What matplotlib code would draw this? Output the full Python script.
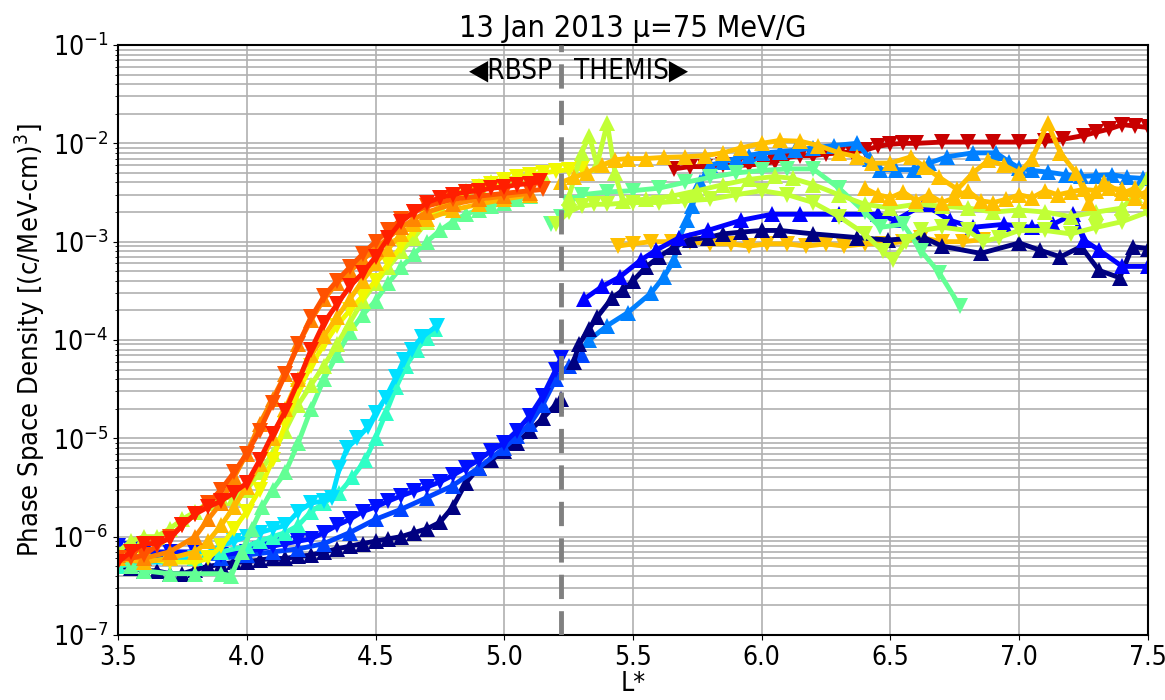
import numpy as np
import matplotlib.pyplot as plt

plt.rcParams['font.family'] = ['DejaVu Sans']
plt.rcParams['font.stretch'] = 'condensed'

# ---- RBSP passes (L*, PSD) ----
L_rb_navy = [3.5, 3.55, 3.6, 3.65, 3.7, 3.75, 3.8, 3.85, 3.9, 3.95, 4.0, 4.05, 4.1, 4.15, 4.2, 4.25, 4.3, 4.35,
             4.4, 4.45, 4.5, 4.55, 4.6, 4.65, 4.7, 4.75, 4.8, 4.85, 4.9, 4.95, 5.0, 5.05, 5.1, 5.15, 5.2, 5.22]
psd_rb_navy = [5e-7, 4.8e-7, 4.5e-7, 4.5e-7, 4.2e-7, 4.2e-7, 4.6e-7, 5e-7, 5.2e-7, 5.5e-7, 5.5e-7, 5.8e-7, 6e-7,
               6e-7, 6.3e-7, 6.5e-7, 7e-7, 7.5e-7, 8e-7, 8.5e-7, 9e-7, 9.5e-7, 1e-6, 1.1e-6, 1.2e-6, 1.4e-6, 2e-6,
               3.5e-6, 5e-6, 6e-6, 7.5e-6, 9e-6, 1.2e-5, 1.6e-5, 2.2e-5, 2.5e-5]

L_rb_blue = [3.5, 3.55, 3.6, 3.7, 3.8, 3.9, 4.0, 4.05, 4.1, 4.15, 4.2, 4.25, 4.3, 4.35, 4.4, 4.45, 4.5, 4.55, 4.6,
             4.65, 4.7, 4.75, 4.8, 4.85, 4.9, 4.95, 5.0, 5.05, 5.1, 5.15, 5.2, 5.22]
psd_rb_blue = [8e-7, 7.5e-7, 7e-7, 7e-7, 7e-7, 6.5e-7, 7e-7, 7.5e-7, 8e-7, 8.5e-7, 9e-7, 9.5e-7, 1.1e-6, 1.3e-6,
               1.5e-6, 1.8e-6, 2e-6, 2.3e-6, 2.6e-6, 2.9e-6, 3.2e-6, 3.6e-6, 4.2e-6, 5e-6, 6e-6, 7.5e-6, 9e-6,
               1.2e-5, 1.7e-5, 2.7e-5, 5e-5, 6.5e-5]

L_rb_mblue = [3.5, 3.6, 3.7, 3.8, 3.9, 4.0, 4.1, 4.2, 4.3, 4.4, 4.5, 4.6, 4.7, 4.8, 4.9, 5.0, 5.05, 5.1, 5.15, 5.2,
              5.25, 5.3]
psd_rb_mblue = [6e-7, 6e-7, 6e-7, 6e-7, 6e-7, 6.5e-7, 7e-7, 7.5e-7, 8.5e-7, 1.1e-6, 1.5e-6, 1.9e-6, 2.5e-6, 3.3e-6,
                5e-6, 8e-6, 1.05e-5, 1.4e-5, 2.2e-5, 4e-5, 5.5e-5, 7e-5]

L_rb_cyan = [3.5, 3.6, 3.7, 3.8, 3.9, 3.95, 4.0, 4.05, 4.1, 4.15, 4.2, 4.25, 4.3, 4.33, 4.36, 4.39, 4.43, 4.47, 4.5,
             4.54, 4.58, 4.61, 4.64, 4.68, 4.74]
psd_rb_cyan = [6e-7, 5.5e-7, 5.5e-7, 6e-7, 8e-7, 9e-7, 1e-6, 1.1e-6, 1.2e-6, 1.3e-6, 1.8e-6, 2.2e-6, 2.3e-6, 2.5e-6,
               5e-6, 8e-6, 1e-5, 1.3e-5, 1.8e-5, 2.6e-5, 4.2e-5, 6.3e-5, 8e-5, 1.07e-4, 1.4e-4]

L_rb_aqua = [3.5, 3.6, 3.7, 3.8, 3.9, 4.0, 4.05, 4.1, 4.15, 4.2, 4.25, 4.3, 4.36, 4.41, 4.46, 4.5, 4.54, 4.58, 4.62,
             4.66, 4.7, 4.73]
psd_rb_aqua = [5e-7, 5.5e-7, 6e-7, 6e-7, 7e-7, 8e-7, 9e-7, 1e-6, 1.1e-6, 1.3e-6, 1.8e-6, 2.2e-6, 2.8e-6, 4e-6, 6e-6,
               1e-5, 1.8e-5, 3.3e-5, 5.5e-5, 8e-5, 1.05e-4, 1.3e-4]

L_rb_lgreen = [3.5, 3.55, 3.6, 3.7, 3.8, 3.9, 3.94, 3.98, 4.02, 4.06, 4.1, 4.15, 4.2, 4.25, 4.3, 4.35, 4.4, 4.45,
               4.5, 4.55, 4.6, 4.65, 4.7, 4.75, 4.8, 4.85, 4.9, 4.95, 5.0, 5.05, 5.1]
psd_rb_lgreen = [6e-7, 5e-7, 4.5e-7, 4.2e-7, 4.2e-7, 4.2e-7, 4e-7, 7e-7, 1.2e-6, 2e-6, 3e-6, 4.5e-6, 9e-6, 2e-5,
                 4e-5, 7e-5, 1.2e-4, 1.8e-4, 2.5e-4, 3.8e-4, 5.5e-4, 7.5e-4, 1e-3, 1.3e-3, 1.6e-3, 1.9e-3, 2.1e-3,
                 2.3e-3, 2.5e-3, 2.7e-3, 2.9e-3]

L_rb_ygreen = [3.5, 3.55, 3.6, 3.65, 3.7, 3.75, 3.8, 3.85, 3.9, 3.95, 4.0, 4.05, 4.1, 4.15, 4.2, 4.25, 4.3, 4.35,
               4.4, 4.45, 4.5, 4.55, 4.6, 4.65, 4.7, 4.75, 4.8, 4.85, 4.9, 4.95, 5.0, 5.05, 5.1, 5.15]
psd_rb_ygreen = [7e-7, 9e-7, 1e-6, 1e-6, 1.2e-6, 1.5e-6, 1.8e-6, 2.2e-6, 2.5e-6, 2.5e-6, 3e-6, 4.5e-6, 7e-6,
                 1.2e-5, 2.2e-5, 3.5e-5, 5.5e-5, 9e-5, 1.5e-4, 2.5e-4, 3.8e-4, 5.5e-4, 8e-4, 1.1e-3, 1.6e-3, 2.2e-3,
                 2.8e-3, 3.3e-3, 3.7e-3, 4e-3, 4.3e-3, 4.5e-3, 4.7e-3, 4.8e-3]

L_rb_yellow = [3.5, 3.6, 3.7, 3.8, 3.85, 3.9, 3.95, 4.0, 4.05, 4.1, 4.15, 4.2, 4.25, 4.3, 4.35, 4.4, 4.45, 4.5, 4.55,
               4.6, 4.65, 4.7, 4.75, 4.8, 4.85, 4.9, 4.95, 5.0, 5.05, 5.1, 5.15, 5.2, 5.25, 5.3]
psd_rb_yellow = [6e-7, 6e-7, 5.5e-7, 5.5e-7, 6e-7, 8e-7, 1.2e-6, 1.8e-6, 3e-6, 6e-6, 1.4e-5, 3e-5, 5.5e-5, 9e-5,
                 1.4e-4, 2e-4, 2.8e-4, 4e-4, 6e-4, 9e-4, 1.3e-3, 1.8e-3, 2.3e-3, 2.8e-3, 3.2e-3, 3.6e-3, 3.9e-3,
                 4.2e-3, 4.5e-3, 4.8e-3, 5e-3, 5.2e-3, 5.4e-3, 5.6e-3]

L_rb_amber = [3.5, 3.6, 3.7, 3.8, 3.85, 3.9, 3.95, 4.0, 4.05, 4.1, 4.15, 4.2, 4.25, 4.3, 4.35, 4.4, 4.45, 4.5, 4.55,
              4.6, 4.65, 4.7, 4.8, 4.9, 5.0, 5.1]
psd_rb_amber = [6e-7, 5.5e-7, 6e-7, 7e-7, 9e-7, 1.3e-6, 2e-6, 3.2e-6, 5.5e-6, 1e-5, 2e-5, 4e-5, 7e-5, 1.1e-4,
                1.7e-4, 2.6e-4, 4e-4, 6e-4, 8.5e-4, 1.2e-3, 1.5e-3, 1.7e-3, 2.1e-3, 2.4e-3, 2.7e-3, 3e-3]

L_rb_orange = [3.5, 3.6, 3.7, 3.8, 3.85, 3.9, 3.95, 4.0, 4.05, 4.1, 4.15, 4.2, 4.25, 4.3, 4.35, 4.4, 4.45, 4.5,
               4.55, 4.6, 4.65, 4.7, 4.8, 4.9, 5.0, 5.1]
psd_rb_orange = [6.5e-7, 6e-7, 7e-7, 1e-6, 1.5e-6, 2.2e-6, 4e-6, 7e-6, 1.4e-5, 2.5e-5, 4.5e-5, 9e-5, 1.6e-4, 2.6e-4,
                 3.8e-4, 5e-4, 6.5e-4, 8.5e-4, 1.1e-3, 1.4e-3, 1.7e-3, 2e-3, 2.4e-3, 2.7e-3, 2.9e-3, 3.1e-3]

L_rb_ored = [3.5, 3.55, 3.6, 3.65, 3.7, 3.75, 3.8, 3.85, 3.9, 3.95, 4.0, 4.05, 4.1, 4.15, 4.2, 4.25, 4.3, 4.35, 4.4,
             4.45, 4.5, 4.55, 4.6, 4.65, 4.7, 4.8, 4.9, 5.0, 5.1, 5.15]
psd_rb_ored = [6e-7, 6e-7, 6.5e-7, 8e-7, 1e-6, 1.3e-6, 1.7e-6, 2.2e-6, 3e-6, 4.5e-6, 7e-6, 1.2e-5, 2.3e-5, 4.5e-5,
               9e-5, 1.7e-4, 2.8e-4, 4e-4, 5.5e-4, 7.5e-4, 1e-3, 1.3e-3, 1.7e-3, 2e-3, 2.3e-3, 2.7e-3, 2.9e-3,
               3.1e-3, 3.3e-3, 3.4e-3]

L_rb_red = [3.5, 3.55, 3.6, 3.65, 3.7, 3.75, 3.8, 3.85, 3.9, 3.95, 4.0, 4.05, 4.1, 4.15, 4.2, 4.25, 4.3, 4.35, 4.4,
            4.45, 4.5, 4.55, 4.6, 4.65, 4.7, 4.75, 4.8, 4.85, 4.9, 4.95, 5.0, 5.05, 5.1, 5.14]
psd_rb_red = [5.5e-7, 7e-7, 8.5e-7, 8.5e-7, 9.5e-7, 1.3e-6, 1.7e-6, 2e-6, 2.3e-6, 2.8e-6, 3.5e-6, 6e-6, 1.1e-5,
              1.9e-5, 3.8e-5, 8e-5, 1.5e-4, 2.3e-4, 3.5e-4, 4.8e-4, 7e-4, 1.1e-3, 1.6e-3, 2e-3, 2.5e-3, 2.8e-3,
              3e-3, 3.2e-3, 3.3e-3, 3.5e-3, 3.6e-3, 3.8e-3, 3.9e-3, 4.1e-3]

# ---- THEMIS passes (L*, PSD) ----
L_th_navy = [5.27, 5.29, 5.33, 5.36, 5.42, 5.46, 5.5, 5.55, 5.6, 5.66, 5.72, 5.79, 5.85, 5.92, 6.0, 6.07, 6.2, 6.37,
             6.49, 6.63, 6.7, 6.85, 7.0, 7.08, 7.16, 7.24, 7.31, 7.39, 7.44, 7.5]
psd_th_navy = [6e-5, 9e-5, 1.3e-4, 1.7e-4, 2.7e-4, 3.2e-4, 4e-4, 5.5e-4, 7e-4, 8.8e-4, 1.05e-3, 1.1e-3, 1.2e-3,
               1.25e-3, 1.3e-3, 1.3e-3, 1.2e-3, 1.1e-3, 1.04e-3, 1.1e-3, 9e-4, 7.6e-4, 9.7e-4, 8.2e-4, 7e-4, 8.9e-4,
               5.1e-4, 4.3e-4, 8.9e-4, 8.5e-4]

L_th_blue = [5.31, 5.38, 5.45, 5.53, 5.59, 5.68, 5.79, 5.92, 6.04, 6.15, 6.3, 6.45, 6.52, 6.63, 6.73, 6.82, 6.94,
             7.05, 7.13, 7.21, 7.25, 7.31, 7.4, 7.5]
psd_th_blue = [2.6e-4, 3.5e-4, 4.4e-4, 6.5e-4, 8.2e-4, 1.1e-3, 1.3e-3, 1.65e-3, 1.9e-3, 1.9e-3, 1.9e-3, 1.9e-3,
               1.65e-3, 2.4e-3, 1.65e-3, 1.4e-3, 1.5e-3, 1.4e-3, 1.5e-3, 1.9e-3, 1.04e-3, 8.2e-4, 5.6e-4, 5.6e-4]

L_th_azure = [5.33, 5.4, 5.48, 5.57, 5.62, 5.66, 5.68, 5.71, 5.73, 5.76, 5.8, 5.85, 5.9, 5.95, 6.0, 6.07, 6.13, 6.2,
              6.28, 6.37, 6.42, 6.46, 6.52, 6.59, 6.65, 6.72, 6.82, 6.91, 6.96, 7.0, 7.05, 7.11, 7.18, 7.24, 7.3,
              7.36, 7.42, 7.48]
psd_th_azure = [1e-4, 1.4e-4, 1.9e-4, 3e-4, 4.4e-4, 6.5e-4, 1.1e-3, 1.65e-3, 2.3e-3, 4e-3, 6e-3, 6.5e-3, 7e-3,
                7.5e-3, 8e-3, 8.2e-3, 8.5e-3, 9e-3, 9.5e-3, 1e-2, 7e-3, 5.4e-3, 5.4e-3, 5.4e-3, 6.3e-3, 7.3e-3,
                8e-3, 8e-3, 6.5e-3, 5.6e-3, 5.3e-3, 5.1e-3, 4.8e-3, 4.6e-3, 4.7e-3, 4.8e-3, 4.5e-3, 4.4e-3]

L_th_lgreen = [5.18, 5.22, 5.25, 5.3, 5.4, 5.5, 5.6, 5.7, 5.8, 5.9, 6.0, 6.1, 6.2, 6.3, 6.4, 6.46, 6.55, 6.62, 6.69,
               6.77]
psd_th_lgreen = [1.5e-3, 1.8e-3, 2.5e-3, 3e-3, 3.2e-3, 3.3e-3, 3.5e-3, 4e-3, 4.5e-3, 5e-3, 5.3e-3, 5.5e-3, 5.5e-3,
                 3.5e-3, 2e-3, 1.4e-3, 1.5e-3, 8e-4, 4.8e-4, 2.2e-4]

L_th_ygreen_dn = [5.2, 5.25, 5.3, 5.35, 5.4, 5.5, 5.6, 5.7, 5.8, 5.9, 6.0, 6.1, 6.2, 6.3, 6.4, 6.47, 6.51, 6.56,
                  6.62, 6.7, 6.8, 6.86, 6.92, 7.0, 7.1, 7.2, 7.3, 7.4, 7.5]
psd_th_ygreen_dn = [1.5e-3, 2e-3, 2.3e-3, 2.4e-3, 2.4e-3, 2.5e-3, 2.5e-3, 2.6e-3, 2.7e-3, 3e-3, 3.3e-3, 3e-3, 2.5e-3,
                    1.8e-3, 1.2e-3, 8e-4, 6.5e-4, 1e-3, 1.3e-3, 1.4e-3, 1.3e-3, 1e-3, 1.1e-3, 1.3e-3, 1.3e-3, 1.2e-3,
                    1.4e-3, 1.6e-3, 2e-3]

L_th_ygreen_up = [5.25, 5.3, 5.33, 5.36, 5.4, 5.43, 5.46, 5.55, 5.65, 5.75, 5.85, 5.95, 6.05, 6.12, 6.2, 6.3, 6.4,
                  6.5, 6.6, 6.7, 6.8, 6.9, 7.0, 7.1, 7.2, 7.3, 7.4, 7.45, 7.5]
psd_th_ygreen_up = [2.8e-3, 8e-3, 1.2e-2, 6e-3, 1.6e-2, 5e-3, 2.6e-3, 2.7e-3, 2.9e-3, 3.3e-3, 3.8e-3, 4.3e-3,
                    4.6e-3, 4.4e-3, 3.8e-3, 3e-3, 2.4e-3, 2.2e-3, 2.4e-3, 2.3e-3, 2.2e-3, 2e-3, 2.1e-3, 2e-3, 1.8e-3,
                    2e-3, 2.2e-3, 3e-3, 4.5e-3]

L_th_amber_dn = [5.44, 5.5, 5.57, 5.65, 5.72, 5.8, 5.88, 5.95, 6.02, 6.1, 6.17, 6.25, 6.32, 6.4, 6.47, 6.55, 6.62,
                 6.7, 6.78, 6.86]
psd_th_amber_dn = [9e-4, 9.5e-4, 1e-3, 1e-3, 1e-3, 9.5e-4, 9.5e-4, 9e-4, 9.5e-4, 9.5e-4, 9e-4, 9.5e-4, 9e-4,
                   9.5e-4, 9.5e-4, 1e-3, 1.1e-3, 1e-3, 1e-3, 1.05e-3]

L_th_amber_up = [5.22, 5.27, 5.32, 5.38, 5.43, 5.48, 5.55, 5.62, 5.7, 5.78, 5.85, 5.92, 6.0, 6.07, 6.15, 6.22, 6.3,
                 6.37, 6.43, 6.5, 6.58, 6.63, 6.69, 6.76, 6.82, 6.88, 6.94, 7.0, 7.05, 7.11, 7.16, 7.22, 7.27, 7.33,
                 7.4, 7.45, 7.5]
psd_th_amber_up = [4e-3, 4.5e-3, 5e-3, 6e-3, 6.8e-3, 7e-3, 7e-3, 7.2e-3, 7.3e-3, 7.5e-3, 8e-3, 9e-3, 1e-2, 1.07e-2,
                   1.05e-2, 9.5e-3, 8e-3, 7.3e-3, 6.3e-3, 6.3e-3, 7.3e-3, 5.8e-3, 4.5e-3, 3.4e-3, 5e-3, 6.7e-3,
                   6e-3, 5e-3, 7e-3, 1.6e-2, 8e-3, 5e-3, 2.5e-3, 4e-3, 3.1e-3, 3.5e-3, 2.6e-3]

L_th_amber_lo = [6.4, 6.45, 6.5, 6.55, 6.6, 6.65, 6.7, 6.75, 6.8, 6.85, 6.9, 6.95, 7.0, 7.05, 7.1, 7.15, 7.2, 7.25,
                 7.3, 7.35, 7.4, 7.45, 7.5]
psd_th_amber_lo = [3.5e-3, 3e-3, 2.8e-3, 3.2e-3, 2.6e-3, 3e-3, 2.5e-3, 2.8e-3, 3.3e-3, 2.6e-3, 2.5e-3, 2.7e-3, 3e-3,
                   2.8e-3, 3.3e-3, 3e-3, 3.2e-3, 3.4e-3, 3.3e-3, 3.5e-3, 3.4e-3, 2.8e-3, 3.3e-3]

L_th_dred = [5.66, 5.72, 5.78, 5.85, 5.9, 5.95, 6.0, 6.05, 6.1, 6.15, 6.2, 6.25, 6.3, 6.35, 6.4, 6.45, 6.5, 6.55,
             6.6, 6.7, 6.8, 6.9, 7.0, 7.1, 7.17, 7.25, 7.3, 7.35, 7.4, 7.45, 7.5]
psd_th_dred = [5.5e-3, 5.8e-3, 5.8e-3, 6e-3, 6e-3, 6e-3, 6.2e-3, 6.5e-3, 7.2e-3, 7.5e-3, 7.5e-3, 7.8e-3, 8e-3,
               8.2e-3, 8.5e-3, 9.3e-3, 9.8e-3, 1e-2, 1e-2, 1.03e-2, 1.03e-2, 1.03e-2, 1.03e-2, 1.05e-2, 1.1e-2,
               1.2e-2, 1.3e-2, 1.4e-2, 1.55e-2, 1.5e-2, 1.45e-2]

L_boundary = 5.22

# draw order, colour, marker
series = [
    (L_rb_navy, psd_rb_navy, '#000080', '^'),
    (L_rb_mblue, psd_rb_mblue, '#0044ff', '^'),
    (L_rb_blue, psd_rb_blue, '#0010ff', 'v'),
    (L_rb_aqua, psd_rb_aqua, '#30ffc6', '^'),
    (L_rb_cyan, psd_rb_cyan, '#00e0ff', 'v'),
    (L_rb_lgreen, psd_rb_lgreen, '#63ff94', '^'),
    (L_rb_ygreen, psd_rb_ygreen, '#c1ff36', '^'),
    (L_rb_yellow, psd_rb_yellow, '#f1f900', 'v'),
    (L_rb_amber, psd_rb_amber, '#ffb900', '^'),
    (L_rb_orange, psd_rb_orange, '#ff8600', '^'),
    (L_rb_ored, psd_rb_ored, '#ff5200', 'v'),
    (L_rb_red, psd_rb_red, '#ff1e00', 'v'),
    (L_th_dred, psd_th_dred, '#c80000', 'v'),
    (L_th_azure, psd_th_azure, '#0080ff', '^'),
    (L_th_amber_dn, psd_th_amber_dn, '#ffc000', 'v'),
    (L_th_navy, psd_th_navy, '#000080', '^'),
    (L_th_blue, psd_th_blue, '#0000ff', '^'),
    (L_th_lgreen, psd_th_lgreen, '#63ff94', 'v'),
    (L_th_ygreen_dn, psd_th_ygreen_dn, '#c1ff36', 'v'),
    (L_th_ygreen_up, psd_th_ygreen_up, '#c1ff36', '^'),
    (L_th_amber_lo, psd_th_amber_lo, '#ffc000', '^'),
    (L_th_amber_up, psd_th_amber_up, '#ffc000', '^'),
]

fig = plt.figure(figsize=(11.65, 7.0), dpi=100)
ax = fig.add_axes([0.1013, 0.0929, 0.8841, 0.8428])

for L, psd, c, m in series:
    ax.semilogy(L, psd, color=c, marker=m, markersize=11, linewidth=3.5, markeredgewidth=0)

ax.axvline(L_boundary, color='grey', linestyle='--', linewidth=3.5, dashes=(5, 2.5), zorder=5)
ax.text(L_boundary - 0.03, 5.5e-2, '\u25C0RBSP', ha='right', va='center', fontsize=20)
ax.text(L_boundary + 0.05, 5.5e-2, 'THEMIS\u25B6', ha='left', va='center', fontsize=20)

ax.set_xlim(3.5, 7.5)
ax.set_ylim(1e-7, 1e-1)
ax.set_xticks(np.arange(3.5, 7.51, 0.5))
ax.grid(True, which='major', color='#b0b0b0', linewidth=1.2)
ax.grid(True, which='minor', axis='y', color='#b0b0b0', linewidth=1.2)
ax.set_axisbelow(True)
ax.tick_params(labelsize=19)
for s in ax.spines.values():
    s.set_linewidth(1.5)

ax.set_xlabel('L*', fontsize=19, labelpad=0)
ax.set_ylabel('Phase Space Density [(c/MeV-cm)$^3$]', fontsize=19.5)
ax.set_title('13 Jan 2013 \u03bc=75 MeV/G', fontsize=22)

fig.savefig('out.png', dpi=100)
